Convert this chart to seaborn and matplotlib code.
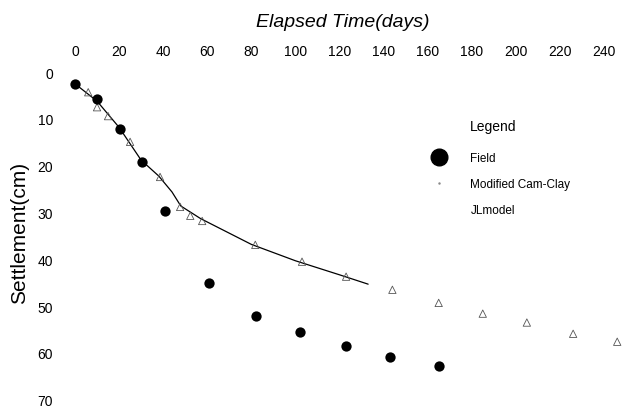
import matplotlib
matplotlib.use("Agg")
import matplotlib.pyplot as plt
from matplotlib.lines import Line2D
import seaborn as sns
import pandas as pd

# ---- data ----
field_days = [0, 10, 20.5, 30.5, 41, 61, 82, 102, 123, 143, 165]
field_settle = [2.6, 5.8, 12.2, 19.2, 29.6, 45.0, 52.0, 55.6, 58.6, 60.8, 62.7]

camclay_days = [6, 10, 15, 25, 38.6, 47.7, 52.3, 57.7, 81.8, 103, 123, 144, 165, 185, 205, 226, 246]
camclay_settle = [4.3, 7.5, 9.4, 14.9, 22.4, 28.8, 30.7, 31.8, 36.9, 40.5, 43.7, 46.5, 49.3, 51.6, 53.5, 55.9, 57.6]

jl_days = [0, 10, 20, 30, 38, 44, 48, 57, 80, 100, 120, 133]
jl_settle = [2.5, 6.2, 11.8, 18.8, 22.2, 25.6, 28.6, 31.3, 36.8, 40.3, 43.3, 45.3]

x_ticks = [0, 20, 40, 60, 80, 100, 120, 140, 160, 180, 200, 220, 240]
y_ticks = [0, 10, 20, 30, 40, 50, 60, 70]

field = pd.DataFrame({"days": field_days, "settle": field_settle})
cam = pd.DataFrame({"days": camclay_days, "settle": camclay_settle})
jl = pd.DataFrame({"days": jl_days, "settle": jl_settle})

sns.set_theme(style="white")
plt.rcParams["font.family"] = ["Liberation Sans", "DejaVu Sans"]
plt.rcParams["text.color"] = "black"
plt.rcParams["axes.labelcolor"] = "black"

fig = plt.figure(figsize=(6.37, 4.10), dpi=100)
ax = fig.add_axes([60 / 637, 5 / 410, 570 / 637, 345 / 410])

sns.lineplot(data=jl, x="days", y="settle", ax=ax, color="black", lw=0.9,
             sort=False, zorder=2)
sns.scatterplot(data=cam, x="days", y="settle", ax=ax, marker="^", s=28,
                facecolor="none", edgecolor="#555555", linewidth=0.6, zorder=3)
sns.scatterplot(data=field, x="days", y="settle", ax=ax, color="black", s=55,
                edgecolor="black", linewidth=0, zorder=4)

ax.set_xlim(-6.8, 251.8)
ax.set_ylim(70.9, -2.8)
ax.xaxis.tick_top()
ax.xaxis.set_label_position("top")
ax.set_xticks(x_ticks)
ax.set_yticks(y_ticks)
ax.set_xticklabels([str(v) for v in x_ticks], fontsize=10)
ax.set_yticklabels([str(v) for v in y_ticks], fontsize=10)
ax.tick_params(axis="x", length=0, pad=1, colors="black")
ax.tick_params(axis="y", length=0, pad=5, colors="black")
for s in ax.spines.values():
    s.set_visible(False)
ax.grid(False)

ax.set_xlabel("Elapsed Time(days)", fontsize=14, style="italic", labelpad=13)
ax.xaxis.set_label_coords((343 - 60) / 570, 1.0 + (60 - 20) / 345 - 0.008)
ax.xaxis.label.set_va("center")
ax.set_ylabel("Settlement(cm)", fontsize=15, labelpad=6)

handles = [
    Line2D([], [], marker="o", color="black", markersize=12, linestyle="none"),
    Line2D([], [], marker=".", color="#888888", markersize=1.5, linestyle="none"),
    Line2D([], [], linestyle="none"),
]
labels = ["Field", "Modified Cam-Clay", "JLmodel"]
leg = fig.legend(handles, labels, loc="upper left",
                 bbox_to_anchor=(422 / 637, 1 - 148 / 410), frameon=False,
                 fontsize=8.5, labelspacing=1.2,
                 handletextpad=1.7, borderaxespad=0)
fig.text(470 / 637, 1 - 127 / 410, "Legend", fontsize=10, ha="left", va="center")

fig.savefig("out.png", dpi=100)
